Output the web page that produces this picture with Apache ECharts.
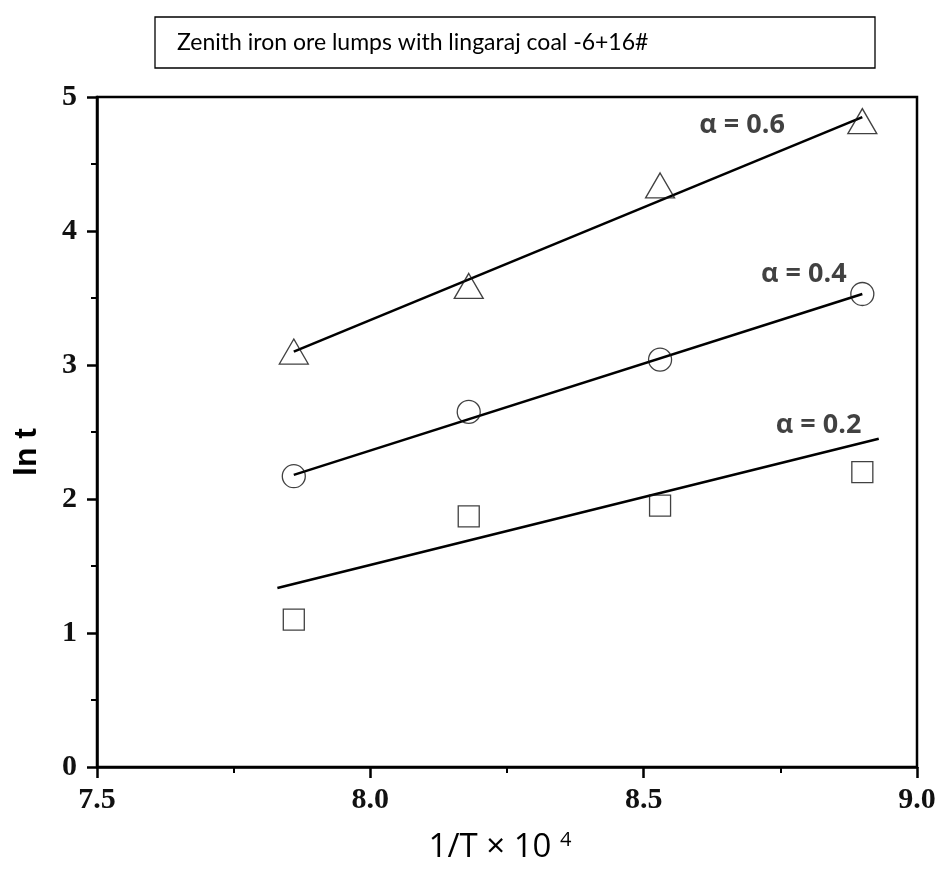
<!DOCTYPE html>
<html>
<head>
<meta charset="utf-8">
<script src="https://cdn.jsdelivr.net/npm/echarts@6/dist/echarts.min.js"></script>
<style>
  html, body { margin: 0; padding: 0; background: #fff; }
  #chart { width: 942px; height: 870px; }
</style>
</head>
<body>
<div id="chart"></div>
<script>
/* ---------------- Data ---------------- */
const xValues = [7.86, 8.18, 8.53, 8.90];

const alpha02 = [1.10, 1.87, 1.95, 2.20];
const alpha04 = [2.17, 2.65, 3.04, 3.53];
const alpha06 = [3.10, 3.59, 4.34, 4.82];

// fitted straight lines, end points
const fit02 = [[7.83, 1.335], [8.93, 2.45]];
const fit04 = [[7.86, 2.18], [8.90, 3.53]];
const fit06 = [[7.86, 3.10], [8.90, 4.85]];

const seriesNames = ["α = 0.2", "α = 0.4", "α = 0.6"];
const labelAnchors = [[8.82, 2.55], [8.793, 3.68], [8.68, 4.79]];

const xTicks = [7.5, 8.0, 8.5, 9.0];
const yTicks = [0, 1, 2, 3, 4, 5];

/* ---------------- Helpers ---------------- */
const pair = ys => xValues.map((x, i) => [x, ys[i]]);

const markerStyle = {
  color: "rgba(0,0,0,0)",
  borderColor: "#111",
  borderWidth: 1.3
};

const scatter = (ys, symbol, size) => ({
  type: "scatter",
  data: pair(ys),
  symbol,
  symbolSize: size,
  itemStyle: markerStyle,
  z: 3,
  silent: true
});

const fitLine = pts => ({
  type: "line",
  data: pts,
  showSymbol: false,
  lineStyle: { color: "#000", width: 2.6 },
  z: 2,
  silent: true
});

const tickFont = {
  fontFamily: "serif",
  fontWeight: 700,
  fontSize: 30,
  color: "#111"
};

/* ---------------- Chart ---------------- */
const chart = echarts.init(document.getElementById("chart"));

chart.setOption({
  animation: false,
  backgroundColor: "#fff",
  grid: {
    left: 97,
    top: 97,
    right: 25,
    bottom: 103,
    outerBoundsMode: "none",
    show: true,
    borderColor: "#000",
    borderWidth: 2.5
  },
  xAxis: {
    type: "value",
    min: xTicks[0],
    max: xTicks[xTicks.length - 1],
    interval: 0.5,
    axisLine: { show: true, onZero: false, lineStyle: { color: "#000", width: 2.5 } },
    axisTick: { show: true, inside: false, length: 11, lineStyle: { color: "#000", width: 2.5 } },
    minorTick: { show: true, splitNumber: 2, length: 6, lineStyle: { color: "#000", width: 2 } },
    splitLine: { show: false },
    axisLabel: Object.assign({ margin: 18, formatter: v => v.toFixed(1) }, tickFont)
  },
  yAxis: {
    type: "value",
    min: yTicks[0],
    max: yTicks[yTicks.length - 1],
    interval: 1,
    axisLine: { show: true, onZero: false, lineStyle: { color: "#000", width: 2.5 } },
    axisTick: { show: true, inside: false, length: 10, lineStyle: { color: "#000", width: 2.5 } },
    minorTick: { show: true, splitNumber: 2, length: 6, lineStyle: { color: "#000", width: 2 } },
    splitLine: { show: false },
    axisLabel: Object.assign({ margin: 20 }, tickFont)
  },
  series: [
    fitLine(fit02),
    fitLine(fit04),
    fitLine(fit06),
    scatter(alpha02, "rect", 21),
    scatter(alpha04, "circle", 23),
    scatter(alpha06, "triangle", [29, 25]),
    {
      type: "scatter",
      data: labelAnchors.map((p, i) => ({ value: p, name: seriesNames[i] })),
      symbolSize: 0,
      silent: true,
      z: 4,
      label: {
        show: true,
        position: "inside",
        formatter: p => p.name,
        fontFamily: "Open Sans",
        fontWeight: "bold",
        fontSize: 27,
        color: "#111"
      }
    }
  ],
  graphic: [
    {
      type: "rect",
      shape: { x: 155, y: 17, width: 720, height: 51 },
      style: { fill: "#fff", stroke: "#000", lineWidth: 1.3 }
    },
    {
      type: "text",
      x: 177,
      y: 43,
      style: {
        text: "Zenith iron ore lumps with lingaraj coal -6+16#",
        fontFamily: "Lato",
        fontSize: 23,
        fill: "#000",
        verticalAlign: "middle"
      }
    },
    {
      type: "text",
      x: 27,
      y: 452,
      rotation: Math.PI / 2,
      style: {
        text: "ln t",
        fontFamily: "Liberation Sans",
        fontWeight: "bold",
        fontSize: 32,
        fill: "#000",
        align: "center",
        verticalAlign: "middle"
      }
    },
    {
      type: "text",
      x: 500,
      y: 848,
      style: {
        text: "{m|1/T × 10 }{s|4}",
        align: "center",
        verticalAlign: "middle",
        rich: {
          m: { fontFamily: "Open Sans", fontSize: 33, fill: "#000" },
          s: { fontFamily: "Open Sans", fontSize: 20, fill: "#000", verticalAlign: "top", padding: [0, 0, 16, 0] }
        }
      }
    }
  ]
});
</script>
</body>
</html>
